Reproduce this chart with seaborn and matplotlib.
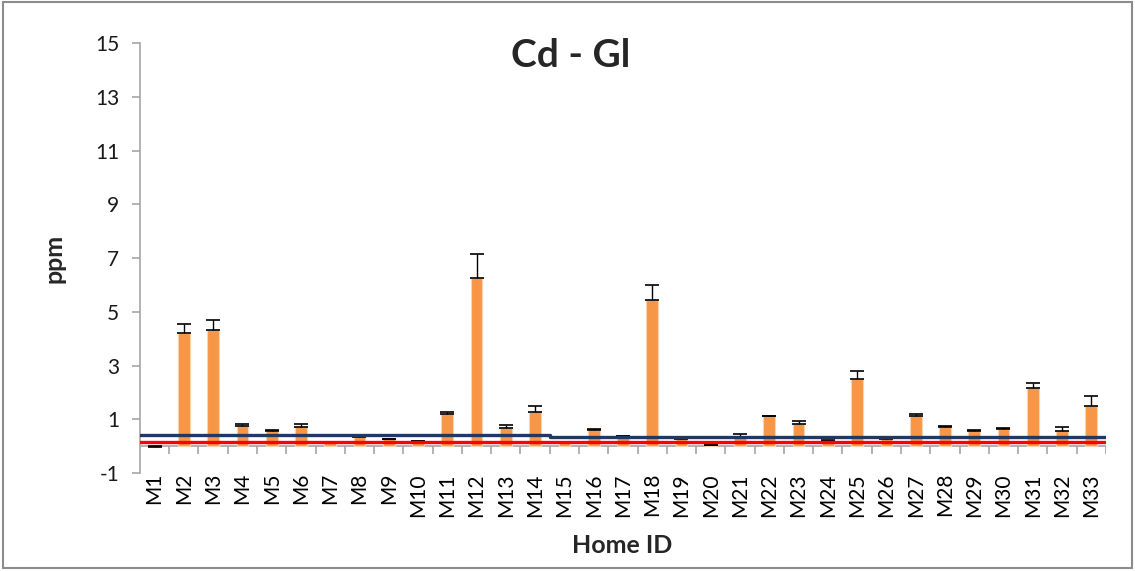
import matplotlib
matplotlib.use("Agg")
import matplotlib.pyplot as plt
from matplotlib.patches import Rectangle
import numpy as np
import pandas as pd
import seaborn as sns

# Cadmium concentration per home (ppm) with upper standard deviation
homes = [f"M{i}" for i in range(1, 34)]
cd_ppm = [-0.03, 4.22, 4.31, 0.74, 0.58, 0.70, 0.15, 0.33, 0.25, 0.19,
          1.20, 6.26, 0.68, 1.26, 0.10, 0.61, 0.37, 5.42, 0.27, 0.05,
          0.33, 1.12, 0.83, 0.20, 2.50, 0.27, 1.12, 0.71, 0.58, 0.62,
          2.17, 0.58, 1.50]
cd_sd = [0.02, 0.32, 0.37, 0.09, 0.03, 0.13, 0.01, 0.03, 0.02, 0.01,
         0.07, 0.89, 0.11, 0.24, 0.01, 0.03, 0.02, 0.59, 0.03, 0.01,
         0.12, 0.02, 0.10, 0.01, 0.28, 0.02, 0.09, 0.04, 0.02, 0.04,
         0.17, 0.15, 0.35]
# Reference levels per home (ppm)
limit_blue = [0.42] * 14 + [0.33] * 19
limit_red = [0.17] * 33

y_ticks = [-1, 1, 3, 5, 7, 9, 11, 13, 15]

df = pd.DataFrame({"home": homes, "ppm": cd_ppm, "sd": cd_sd})

sns.set_theme(style="white")
plt.rcParams["font.family"] = ["Lato", "DejaVu Sans"]

fig = plt.figure(figsize=(11.35, 5.71), dpi=100)
ax = fig.add_axes([0.1233, 0.1716, 0.8511, 0.7531])

sns.barplot(data=df, x="home", y="ppm", color="#F79646", saturation=1,
            width=0.4, errorbar=None, edgecolor="#FBD3AE", linewidth=0.8,
            ax=ax, zorder=2)

xpos = np.arange(len(homes))
ax.errorbar(xpos, df["ppm"], yerr=[np.zeros(len(homes)), df["sd"]],
            fmt="none", ecolor="black", elinewidth=1.0, capsize=5,
            capthick=1.2, zorder=3)

# Reference lines spanning each home's slot
xs = np.concatenate([[-0.5], xpos, [len(homes) - 0.5]])
def extend(v):
    return np.concatenate([[v[0]], v, [v[-1]]])
ax.step(xs, extend(np.array(limit_blue)), where="mid", color="#1F3864",
        lw=2.4, zorder=4)
ax.step(xs, extend(np.array(limit_red)), where="mid", color="#FF0000",
        lw=2.4, zorder=4)

ax.set_xlim(-0.5, len(homes) - 0.5)
ax.set_ylim(-1, 15)
ax.set_yticks(y_ticks)
ax.set_yticklabels([str(t) for t in y_ticks], fontsize=15, color="#1a1a1a")
ax.set_xticks(xpos)
ax.set_xticklabels(homes, rotation=90, fontsize=15, color="#000000")

# Category axis at zero with separators between homes
ax.axhline(0, color="#A6A6A6", lw=1.2, zorder=1)
ax.vlines(np.arange(len(homes)) + 0.5, -0.3, 0, color="#A6A6A6", lw=1.2,
          zorder=1)

for s in ["top", "right", "bottom"]:
    ax.spines[s].set_visible(False)
ax.spines["left"].set_color("#A6A6A6")
ax.spines["left"].set_linewidth(1.2)

ax.tick_params(axis="y", which="major", left=True, length=6, width=1.2,
               color="#A6A6A6", pad=9)
ax.tick_params(axis="x", length=0, pad=0)

ax.set_xlabel("")
ax.set_ylabel("")

fig.text(0.503, 0.903, "Cd - Gl", ha="center", va="center",
         fontsize=28, fontweight="bold")
fig.text(0.548, 0.0455, "Home ID", ha="center", va="center",
         fontsize=18, fontweight="bold")
fig.text(0.048, 0.548, "ppm", ha="center", va="center", rotation=90,
         fontsize=18, fontweight="bold")

fig.patches.append(Rectangle((0.003, 0.006), 0.994, 0.99,
                             transform=fig.transFigure, fill=False,
                             edgecolor="#8C8C8C", lw=1.5))

fig.savefig("out.png", dpi=100)
